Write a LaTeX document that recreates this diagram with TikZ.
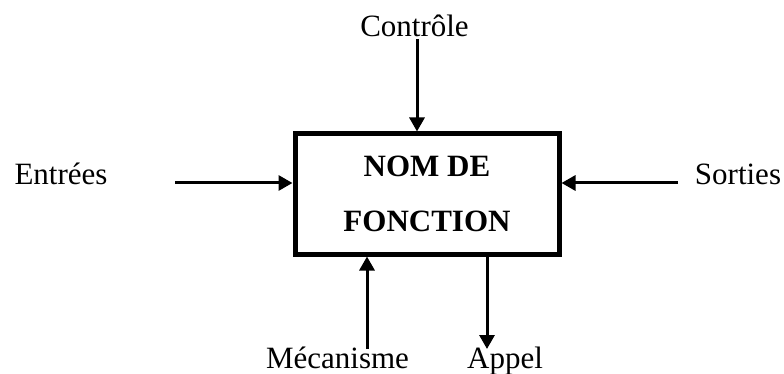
\documentclass[tikz,border=0pt]{standalone}
\usepackage{fontspec}
\setmainfont{Liberation Serif}
\usetikzlibrary{arrows.meta}
\begin{document}
\begin{tikzpicture}[x=1pt,y=-1pt,
  lbl/.style={anchor=base,inner sep=0pt,font=\fontsize{31}{37}\selectfont},
  arr/.style={line width=3pt,-{Triangle[length=14pt,width=15pt]}},
  fbox/.style={draw,line width=5pt,minimum width=264pt,minimum height=120pt,inner sep=0pt,align=center,font=\fontsize{31}{55}\selectfont\bfseries}]
\useasboundingbox (0,0) rectangle (784,374);
\node[fbox] (box) at (427,194) {NOM DE\\FONCTION};
\node[lbl] (ctrl) at (414.5,37) {Contrôle};
\node[lbl] (ent) at (61,185) {Entrées};
\node[lbl] (sort) at (738,185) {Sorties};
\node[lbl] (meca) at (337.5,368) {Mécanisme};
\node[lbl] (app) at (505,368) {Appel};
\coordinate (c1) at (417,39);
\coordinate (e1) at (175,183);
\coordinate (s1) at (678,183);
\coordinate (m1) at (367,349);
\coordinate (a1) at (487,349);
\draw[arr] (c1) -- (c1 |- box.north);
\draw[arr] (e1) -- (e1 -| box.west);
\draw[arr] (s1) -- (s1 -| box.east);
\draw[arr] (m1) -- (m1 |- box.south);
\draw[arr] (a1 |- box.south) -- (a1);
\end{tikzpicture}
\end{document}
